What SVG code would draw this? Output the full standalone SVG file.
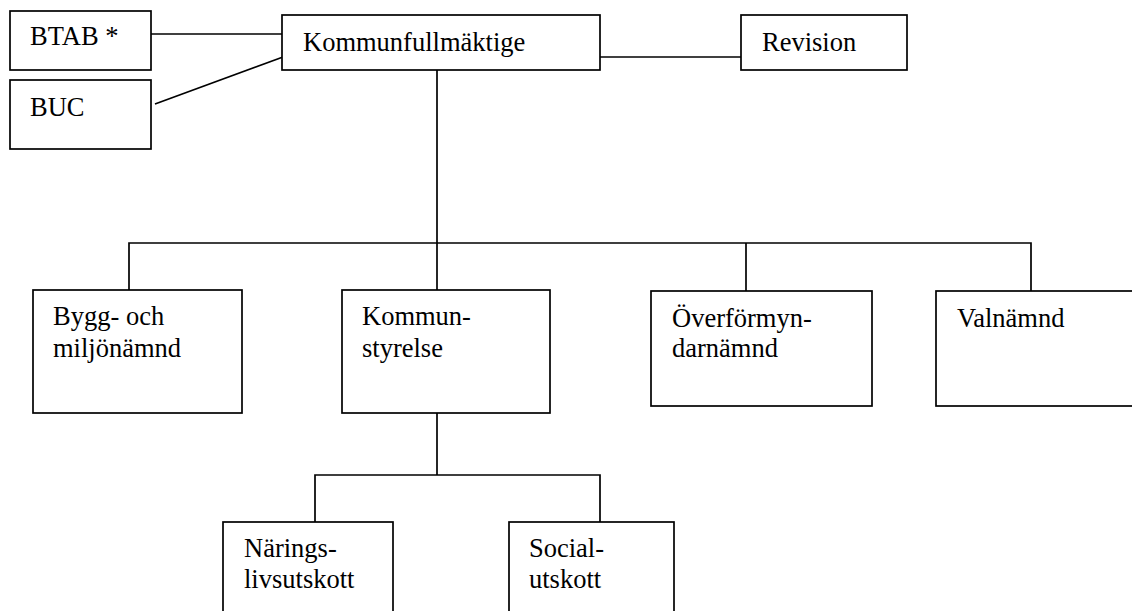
<svg xmlns="http://www.w3.org/2000/svg" width="1132" height="611" viewBox="0 0 1132 611">
<style>
.box{fill:#fff;stroke:#000;stroke-width:1.7}
.ln{fill:none;stroke:#000;stroke-width:1.7}
.t{font-family:'Liberation Serif','DejaVu Serif',serif;font-size:26.5px;fill:#000}
</style>
<rect width="1132" height="611" fill="#fff"/>
<g id="connectors">
<line class="ln" x1="151" y1="34" x2="283" y2="34"/>
<line class="ln" x1="155" y1="104" x2="283" y2="57"/>
<line class="ln" x1="600" y1="57" x2="741" y2="57"/>
<line class="ln" x1="437" y1="70" x2="437" y2="290"/>
<polyline class="ln" points="129,290 129,243 1031,243 1031,291"/>
<line class="ln" x1="746" y1="243" x2="746" y2="291"/>
<line class="ln" x1="437" y1="413" x2="437" y2="475"/>
<polyline class="ln" points="315,522 315,475 600,475 600,522"/>
</g>
<g id="btab"><rect class="box" x="10" y="11" width="141" height="59"/><text class="t" x="30" y="45">BTAB *</text></g>
<g id="buc"><rect class="box" x="10" y="80" width="141" height="69"/><text class="t" x="30" y="116">BUC</text></g>
<g id="kommunfullmaktige"><rect class="box" x="282" y="15" width="318" height="55"/><text class="t" x="303" y="51">Kommunfullmäktige</text></g>
<g id="revision"><rect class="box" x="741" y="15" width="166" height="55"/><text class="t" x="762" y="51">Revision</text></g>
<g id="bygg"><rect class="box" x="33" y="290" width="209" height="123"/><text class="t" x="53" y="325">Bygg- och</text><text class="t" x="53" y="357">miljönämnd</text></g>
<g id="kommunstyrelse"><rect class="box" x="342" y="290" width="208" height="123"/><text class="t" x="362" y="325">Kommun-</text><text class="t" x="362" y="357">styrelse</text></g>
<g id="overformyndarnamnd"><rect class="box" x="651" y="291" width="221" height="115"/><text class="t" x="672" y="327">Överförmyn-</text><text class="t" x="672" y="357">darnämnd</text></g>
<g id="valnamnd"><rect class="box" x="936" y="291" width="220" height="115"/><text class="t" x="957" y="327">Valnämnd</text></g>
<g id="naringslivsutskott"><rect class="box" x="223" y="522" width="170" height="110"/><text class="t" x="244" y="557">Närings-</text><text class="t" x="244" y="588">livsutskott</text></g>
<g id="socialutskott"><rect class="box" x="509" y="522" width="165" height="110"/><text class="t" x="529" y="557">Social-</text><text class="t" x="529" y="588">utskott</text></g>
</svg>
